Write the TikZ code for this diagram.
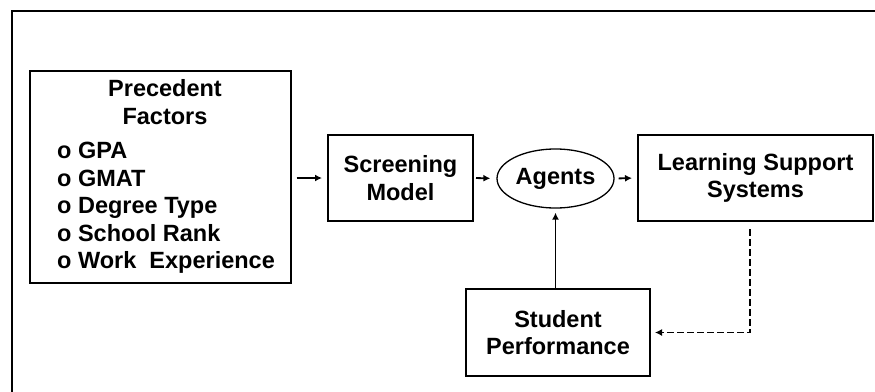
\documentclass[tikz,border=0pt]{standalone}
\usepackage{fontspec}
\setmainfont{Liberation Sans}
\usepackage{tikz}
\usetikzlibrary{arrows.meta,calc,positioning,shapes.geometric}

\begin{document}
\begin{tikzpicture}[
    x=1pt, y=-1pt,
    font=\fontsize{23.5}{27.5}\selectfont\bfseries,
    box/.style={draw, line width=2pt, rectangle, inner sep=0},
    oval/.style={draw, line width=1.3pt, ellipse, inner sep=0},
    txt/.style={inner sep=0, align=center},
    flow/.style={line width=1.8pt, -{Latex[length=7pt,width=7pt]}},
    back/.style={line width=1.3pt, dash pattern=on 7pt off 3pt, -{Latex[length=7pt,width=7pt]}}]
\useasboundingbox (0,0) rectangle (875,391);
\clip (0,0) rectangle (875,391);
\draw[line width=2pt] (11.5,420) -- (11.5,10.7) -- (900,10.7);

\node[box, minimum width=261pt, minimum height=212pt] (prec)   at (160.1,176.9) {};
\node[txt] (prechead) at (165,102) {Precedent\\Factors};
\node[txt, align=left, anchor=west] (preclist) at (57,208)
    {o GPA\\o GMAT\\o Degree Type\\o School Rank\\o Work\ \ Experience};
\node[box, minimum width=145pt, minimum height=86pt, txt] (screen) at (400.5,178) {Screening\\Model};
\node[oval, minimum width=117pt, minimum height=59pt, txt] (agents) at (555.5,178.5) {Agents};
\node[box, minimum width=235pt, minimum height=86pt, txt] (learn)  at (755.5,178) {Learning Support\\Systems};
\node[box, minimum width=184pt, minimum height=87pt, txt] (stud)   at (558,332.5) {Student\\Performance};

\draw[flow, shorten <=5pt, shorten >=5pt] (prec.east |- screen.west) -- (screen.west);
\draw[flow, shorten <=2pt, shorten >=6pt] (screen.east) -- (agents.west);
\draw[flow, shorten <=4pt, shorten >=5pt] (agents.east) -- (learn.west);
\draw[flow, shorten >=4pt] (agents.south |- stud.north) -- (agents.south);
\draw[back, shorten >=4pt] ([xshift=-5.5pt, yshift=-7pt]learn.south) |- (stud.east);

\end{tikzpicture}
\end{document}
